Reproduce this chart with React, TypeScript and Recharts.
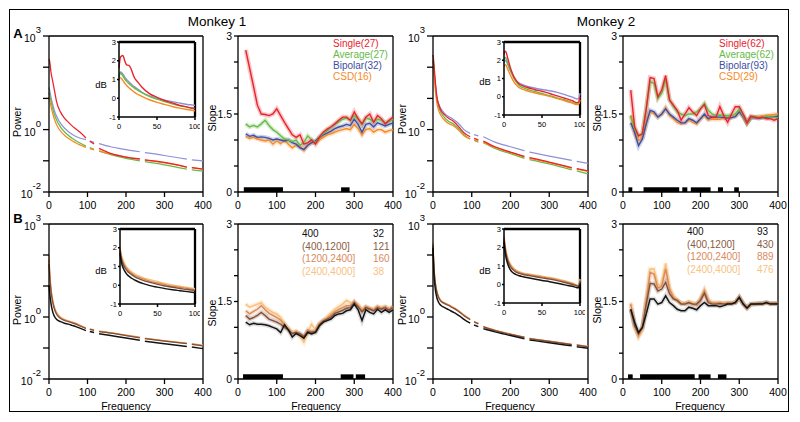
import React from 'react';
import { LineChart, Line, XAxis, YAxis, ReferenceLine, ReferenceArea } from 'recharts';

const FONT = 'Arial, "Liberation Sans", Helvetica, sans-serif';

// ---------- frequency grids ----------
const P_FREQ = [0, 2, 5, 10, 15, 20, 30, 40, 50, 60, 70, 80, 96, 101, 106, 117, 123, 130, 160, 200, 236, 242, 249, 300, 358, 364, 371, 400];
const I_FREQ = [0, 2, 5, 8, 10, 13, 16, 20, 25, 30, 40, 50, 60, 70, 80, 90, 96, 98, 100];
const S_FREQ = [20, 30, 40, 50, 60, 70, 80, 90, 100, 110, 120, 130, 140, 150, 160, 170, 180, 190, 200, 210, 220, 230, 240, 250, 260, 270, 280, 290, 300, 310, 320, 330, 340, 350, 360, 370, 380, 390, 400];

// ---------- tick values ----------
const X_TICKS = [0, 100, 200, 300, 400];
const POW_TICKS = [-2, -1, 0, 1, 2, 3];
const SLOPE_TICKS = [0, 0.5, 1, 1.5, 2, 2.5, 3];
const INSET_X_TICKS = [0, 50, 100];
const INSET_Y_TICKS = [-1, 0, 1, 2, 3];

// ---------- labels ----------
const LEGEND_M1 = ['Single(27)', 'Average(27)', 'Bipolar(32)', 'CSD(16)'];
const LEGEND_M2 = ['Single(62)', 'Average(62)', 'Bipolar(93)', 'CSD(29)'];
const DEPTH_BINS = ['400', '(400,1200]', '(1200,2400]', '(2400,4000]'];
const DEPTH_COUNTS_M1 = ['32', '121', '160', '38'];
const DEPTH_COUNTS_M2 = ['93', '430', '889', '476'];

// ---------- Row A, monkey 1: log10 power (null = notch gap) ----------
const A1_POW_SINGLE = [2.26, 2.17, 1.85, 1.53, 1.2, 0.88, 0.56, 0.37, 0.24, 0.12, 0.02, -0.08, -0.27, null, -0.37, -0.46, null, -0.6, -0.76, -0.88, -0.94, null, -0.97, -1.05, -1.2, null, -1.22, -1.27];
const A1_POW_AVERAGE = [1.18, 1.1, 0.92, 0.65, 0.45, 0.3, 0.08, -0.07, -0.18, -0.28, -0.36, -0.43, -0.53, null, -0.58, -0.63, null, -0.68, -0.8, -0.92, -1.0, null, -1.03, -1.13, -1.27, null, -1.29, -1.33];
const A1_POW_BIPOLAR = [1.35, 1.25, 1.05, 0.78, 0.57, 0.42, 0.2, 0.05, -0.06, -0.15, -0.22, -0.27, -0.32, null, -0.37, -0.41, null, -0.45, -0.55, -0.64, -0.71, null, -0.74, -0.83, -0.95, null, -0.97, -1.0];
const A1_POW_CSD = [1.05, 0.95, 0.75, 0.5, 0.3, 0.15, -0.05, -0.18, -0.28, -0.36, -0.43, -0.49, -0.57, null, -0.61, -0.65, null, -0.69, -0.78, -0.88, -0.95, null, -0.98, -1.07, -1.2, null, -1.22, -1.27];

// inset dB, monkey 1
const A1_DB_SINGLE = [1.6, 2.2, 2.28, 1.95, 1.78, 1.75, 1.55, 1.12, 0.85, 0.6, 0.25, 0.05, -0.12, -0.25, -0.38, -0.47, -0.52, -0.53, -0.55];
const A1_DB_AVERAGE = [1.1, 1.35, 1.2, 1.0, 0.9, 0.78, 0.68, 0.55, 0.42, 0.3, 0.1, -0.05, -0.18, -0.3, -0.4, -0.48, -0.53, -0.54, -0.55];
const A1_DB_BIPOLAR = [1.2, 1.4, 1.3, 1.1, 1.0, 0.88, 0.76, 0.62, 0.48, 0.32, 0.12, 0.0, -0.1, -0.18, -0.26, -0.33, -0.36, -0.37, -0.38];
const A1_DB_CSD = [0.95, 1.1, 0.95, 0.78, 0.68, 0.56, 0.46, 0.33, 0.2, 0.1, -0.08, -0.22, -0.33, -0.44, -0.53, -0.6, -0.64, -0.65, -0.67];

// slope, monkey 1
const A2_SLOPE_SINGLE = [2.73, 2.38, 2.03, 1.67, 1.5, 1.49, 1.47, 1.5, 1.6, 1.47, 1.34, 1.22, 1.1, 1.05, 1.1, 0.92, 0.95, 1.0, 0.92, 1.05, 1.15, 1.21, 1.25, 1.31, 1.38, 1.44, 1.44, 1.38, 1.54, 1.41, 1.31, 1.44, 1.5, 1.34, 1.47, 1.41, 1.31, 1.38, 1.44];
const A2_SLOPE_AVERAGE = [1.31, 1.25, 1.28, 1.25, 1.31, 1.38, 1.28, 1.2, 1.15, 1.08, 1.02, 1.0, 0.97, 1.0, 0.9, 0.95, 1.08, 1.0, 0.95, 1.05, 1.12, 1.18, 1.25, 1.3, 1.35, 1.4, 1.42, 1.38, 1.47, 1.4, 1.3, 1.42, 1.4, 1.35, 1.4, 1.38, 1.33, 1.36, 1.4];
const A2_SLOPE_BIPOLAR = [1.12, 1.07, 1.09, 1.05, 1.06, 1.05, 1.03, 1.0, 1.02, 1.0, 0.98, 1.0, 0.95, 0.92, 0.85, 0.82, 0.9, 0.95, 0.98, 1.05, 1.1, 1.13, 1.17, 1.22, 1.25, 1.27, 1.3, 1.28, 1.4, 1.3, 1.15, 1.3, 1.32, 1.25, 1.33, 1.3, 1.27, 1.3, 1.33];
const A2_SLOPE_CSD = [1.07, 1.03, 1.05, 1.02, 1.0, 0.98, 1.0, 0.92, 0.98, 0.93, 1.0, 0.92, 0.85, 0.9, 0.88, 0.8, 0.9, 0.95, 0.95, 1.0, 1.05, 1.1, 1.12, 1.15, 1.18, 1.2, 1.22, 1.2, 1.3, 1.22, 1.1, 1.2, 1.22, 1.15, 1.2, 1.2, 1.15, 1.18, 1.2];
const A2_SIG = [[15, 116], [266, 288]];

// ---------- Row A, monkey 2 ----------
const A3_POW_SINGLE = [2.39, 2.18, 1.69, 1.05, 0.79, 0.63, 0.47, 0.36, 0.29, 0.18, 0.04, -0.1, -0.23, null, -0.28, -0.33, null, -0.37, -0.55, -0.72, -0.86, null, -0.9, -1.04, -1.22, null, -1.25, -1.32];
const A3_POW_AVERAGE = [2.18, 2.0, 1.55, 0.98, 0.72, 0.56, 0.38, 0.27, 0.2, 0.1, -0.02, -0.16, -0.3, null, -0.35, -0.4, null, -0.42, -0.6, -0.77, -0.92, null, -0.96, -1.1, -1.29, null, -1.32, -1.42];
const A3_POW_BIPOLAR = [2.23, 2.05, 1.6, 1.05, 0.82, 0.68, 0.52, 0.42, 0.35, 0.26, 0.14, 0.0, -0.12, null, -0.16, -0.2, null, -0.23, -0.4, -0.55, -0.68, null, -0.72, -0.85, -0.99, null, -1.02, -1.08];
const A3_POW_CSD = [2.02, 1.85, 1.4, 0.85, 0.6, 0.46, 0.3, 0.2, 0.14, 0.05, -0.07, -0.2, -0.3, null, -0.33, -0.37, null, -0.4, -0.57, -0.74, -0.88, null, -0.92, -1.06, -1.24, null, -1.27, -1.34];

const A3_DB_SINGLE = [2.35, 2.5, 2.1, 1.65, 1.4, 1.1, 0.9, 0.7, 0.6, 0.52, 0.4, 0.3, 0.18, 0.05, -0.08, -0.22, -0.32, -0.3, 0.0];
const A3_DB_AVERAGE = [2.05, 2.15, 1.85, 1.5, 1.3, 1.02, 0.82, 0.62, 0.5, 0.42, 0.3, 0.18, 0.06, -0.06, -0.18, -0.32, -0.4, -0.38, -0.15];
const A3_DB_BIPOLAR = [1.85, 2.0, 1.75, 1.45, 1.3, 1.05, 0.88, 0.75, 0.65, 0.58, 0.48, 0.4, 0.33, 0.24, 0.12, -0.02, -0.12, -0.1, 0.2];
const A3_DB_CSD = [1.65, 1.75, 1.5, 1.22, 1.05, 0.82, 0.65, 0.5, 0.4, 0.33, 0.22, 0.12, 0.02, -0.1, -0.22, -0.35, -0.43, -0.42, -0.2];

const A4_SLOPE_SINGLE = [1.96, 1.25, 1.08, 1.12, 1.6, 2.2, 2.18, 1.83, 1.96, 2.24, 1.77, 1.67, 1.57, 1.38, 1.5, 1.62, 1.54, 1.47, 1.6, 1.68, 1.47, 1.44, 1.44, 1.64, 1.47, 1.34, 1.5, 1.64, 1.64, 1.5, 1.33, 1.46, 1.44, 1.42, 1.44, 1.41, 1.41, 1.38, 1.41];
const A4_SLOPE_AVERAGE = [1.47, 1.21, 1.08, 1.12, 1.6, 2.12, 2.09, 1.8, 1.9, 2.16, 1.77, 1.64, 1.54, 1.5, 1.47, 1.5, 1.5, 1.54, 1.6, 1.7, 1.57, 1.5, 1.47, 1.48, 1.47, 1.47, 1.47, 1.5, 1.6, 1.47, 1.33, 1.44, 1.44, 1.44, 1.44, 1.46, 1.44, 1.44, 1.42];
const A4_SLOPE_BIPOLAR = [1.33, 1.15, 0.89, 1.02, 1.31, 1.57, 1.54, 1.44, 1.5, 1.6, 1.5, 1.44, 1.38, 1.33, 1.33, 1.41, 1.38, 1.33, 1.41, 1.5, 1.41, 1.44, 1.44, 1.44, 1.43, 1.42, 1.43, 1.45, 1.54, 1.45, 1.33, 1.43, 1.43, 1.42, 1.43, 1.44, 1.44, 1.45, 1.46];
const A4_SLOPE_CSD = [1.47, 1.12, 0.99, 1.05, 1.34, 1.54, 1.51, 1.44, 1.5, 1.62, 1.47, 1.41, 1.34, 1.31, 1.33, 1.38, 1.34, 1.31, 1.41, 1.47, 1.39, 1.4, 1.4, 1.4, 1.42, 1.43, 1.44, 1.46, 1.54, 1.45, 1.33, 1.43, 1.44, 1.45, 1.46, 1.47, 1.48, 1.49, 1.5];
const A4_SIG = [[14, 24], [53, 145], [153, 166], [175, 226], [245, 258], [287, 299]];

// ---------- Row B, monkey 1 (depth bins) ----------
const B1_POW_D0 = [1.03, 0.75, 0.45, 0.15, 0.0, -0.08, -0.15, -0.2, -0.23, -0.27, -0.31, -0.36, -0.44, null, -0.47, -0.5, null, -0.54, -0.6, -0.68, -0.75, null, -0.78, -0.86, -0.95, null, -0.97, -1.02];
const B1_POW_D1 = [1.7, 1.3, 0.85, 0.45, 0.22, 0.08, -0.05, -0.11, -0.15, -0.19, -0.23, -0.29, -0.37, null, -0.4, -0.43, null, -0.47, -0.52, -0.6, -0.67, null, -0.7, -0.78, -0.86, null, -0.88, -0.93];
const B1_POW_D2 = [1.85, 1.4, 0.92, 0.5, 0.26, 0.12, -0.02, -0.09, -0.13, -0.17, -0.21, -0.27, -0.36, null, -0.39, -0.42, null, -0.46, -0.51, -0.59, -0.66, null, -0.69, -0.77, -0.85, null, -0.87, -0.92];
const B1_POW_D3 = [2.0, 1.5, 1.0, 0.55, 0.3, 0.15, 0.0, -0.07, -0.12, -0.16, -0.2, -0.26, -0.35, null, -0.38, -0.41, null, -0.45, -0.5, -0.58, -0.65, null, -0.68, -0.76, -0.84, null, -0.86, -0.91];

const B1_DB_D0 = [1.7, 1.2, 0.85, 0.65, 0.55, 0.45, 0.36, 0.27, 0.17, 0.1, -0.02, -0.1, -0.18, -0.24, -0.29, -0.34, -0.37, -0.38, -0.38];
const B1_DB_D1 = [1.85, 1.4, 1.05, 0.85, 0.75, 0.64, 0.55, 0.45, 0.35, 0.27, 0.15, 0.05, -0.04, -0.11, -0.17, -0.23, -0.26, -0.27, -0.28];
const B1_DB_D2 = [1.95, 1.5, 1.15, 0.94, 0.84, 0.72, 0.62, 0.52, 0.43, 0.35, 0.22, 0.12, 0.03, -0.05, -0.11, -0.17, -0.21, -0.22, -0.23];
const B1_DB_D3 = [2.05, 1.6, 1.25, 1.02, 0.92, 0.8, 0.7, 0.6, 0.5, 0.42, 0.3, 0.2, 0.1, 0.02, -0.05, -0.12, -0.16, -0.17, -0.18];

const B2_SLOPE_D0 = [1.1, 1.05, 1.08, 1.06, 1.06, 1.05, 1.03, 1.0, 0.97, 0.9, 1.05, 0.95, 0.81, 0.88, 0.84, 0.79, 0.9, 0.87, 0.9, 1.03, 1.1, 1.13, 1.16, 1.23, 1.26, 1.27, 1.32, 1.34, 1.45, 1.34, 1.13, 1.34, 1.29, 1.26, 1.35, 1.29, 1.34, 1.29, 1.34];
const B2_SLOPE_D1 = [1.23, 1.16, 1.19, 1.23, 1.29, 1.23, 1.16, 1.13, 1.1, 1.06, 1.0, 0.95, 0.88, 0.9, 0.88, 0.82, 0.92, 0.9, 0.92, 1.05, 1.12, 1.16, 1.2, 1.27, 1.3, 1.33, 1.37, 1.38, 1.48, 1.4, 1.3, 1.38, 1.35, 1.32, 1.38, 1.35, 1.38, 1.33, 1.39];
const B2_SLOPE_D2 = [1.32, 1.26, 1.31, 1.35, 1.42, 1.34, 1.27, 1.23, 1.19, 1.14, 1.05, 0.97, 0.88, 0.92, 0.86, 0.8, 0.95, 0.92, 0.93, 1.07, 1.13, 1.18, 1.24, 1.3, 1.35, 1.38, 1.42, 1.42, 1.5, 1.42, 1.33, 1.4, 1.37, 1.34, 1.4, 1.37, 1.4, 1.35, 1.4];
const B2_SLOPE_D3 = [1.45, 1.39, 1.42, 1.45, 1.48, 1.39, 1.34, 1.29, 1.26, 1.19, 1.08, 0.98, 0.9, 0.92, 0.82, 0.71, 0.9, 1.06, 0.94, 1.08, 1.13, 1.2, 1.28, 1.35, 1.4, 1.45, 1.52, 1.48, 1.45, 1.44, 1.35, 1.4, 1.37, 1.35, 1.4, 1.38, 1.4, 1.35, 1.39];
const B2_SIG = [[13, 116], [265, 298], [304, 328]];

// ---------- Row B, monkey 2 ----------
const B3_POW_D0 = [2.22, 1.5, 1.0, 0.62, 0.46, 0.38, 0.3, 0.24, 0.17, 0.1, 0.02, -0.08, -0.2, null, -0.26, -0.31, null, -0.38, -0.48, -0.6, -0.7, null, -0.74, -0.83, -0.93, null, -0.96, -1.01];
const B3_POW_D1 = [2.3, 1.68, 1.18, 0.8, 0.61, 0.51, 0.43, 0.37, 0.3, 0.23, 0.14, 0.04, -0.09, null, -0.16, -0.22, null, -0.32, -0.44, -0.56, -0.66, null, -0.7, -0.79, -0.89, null, -0.91, -0.96];
const B3_POW_D2 = [2.35, 1.72, 1.22, 0.83, 0.63, 0.53, 0.45, 0.39, 0.32, 0.25, 0.16, 0.06, -0.07, null, -0.15, -0.21, null, -0.31, -0.43, -0.55, -0.65, null, -0.69, -0.78, -0.88, null, -0.9, -0.95];
const B3_POW_D3 = [2.4, 1.75, 1.25, 0.85, 0.65, 0.55, 0.46, 0.4, 0.33, 0.26, 0.17, 0.07, -0.06, null, -0.14, -0.2, null, -0.3, -0.42, -0.55, -0.65, null, -0.69, -0.78, -0.88, null, -0.9, -0.95];

const B3_DB_D0 = [2.3, 1.6, 1.1, 0.82, 0.7, 0.6, 0.53, 0.47, 0.42, 0.38, 0.3, 0.22, 0.15, 0.07, -0.02, -0.1, -0.17, -0.18, 0.05];
const B3_DB_D1 = [2.45, 1.8, 1.28, 1.0, 0.88, 0.76, 0.67, 0.6, 0.54, 0.5, 0.43, 0.36, 0.29, 0.21, 0.11, 0.0, -0.08, -0.1, 0.2];
const B3_DB_D2 = [2.55, 1.9, 1.36, 1.08, 0.95, 0.82, 0.73, 0.65, 0.59, 0.54, 0.48, 0.41, 0.34, 0.26, 0.16, 0.04, -0.05, -0.07, 0.25];
const B3_DB_D3 = [2.65, 2.0, 1.45, 1.15, 1.02, 0.88, 0.78, 0.7, 0.63, 0.58, 0.52, 0.45, 0.38, 0.3, 0.2, 0.08, -0.03, -0.05, 0.3];

const B4_SLOPE_D0 = [1.35, 1.1, 0.9, 1.0, 1.26, 1.55, 1.55, 1.45, 1.48, 1.61, 1.48, 1.42, 1.35, 1.32, 1.32, 1.39, 1.37, 1.34, 1.42, 1.48, 1.42, 1.42, 1.42, 1.4, 1.42, 1.45, 1.45, 1.48, 1.58, 1.45, 1.37, 1.45, 1.45, 1.45, 1.45, 1.48, 1.45, 1.45, 1.45];
const B4_SLOPE_D1 = [1.35, 1.03, 0.87, 1.0, 1.45, 1.85, 1.84, 1.7, 1.74, 1.87, 1.65, 1.55, 1.52, 1.45, 1.45, 1.48, 1.45, 1.45, 1.52, 1.66, 1.48, 1.45, 1.45, 1.46, 1.45, 1.46, 1.46, 1.48, 1.58, 1.46, 1.38, 1.45, 1.45, 1.46, 1.46, 1.48, 1.46, 1.46, 1.46];
const B4_SLOPE_D2 = [1.45, 1.03, 0.84, 0.97, 1.52, 2.06, 2.03, 1.76, 1.8, 2.13, 1.74, 1.58, 1.52, 1.46, 1.46, 1.48, 1.45, 1.43, 1.55, 1.71, 1.52, 1.47, 1.47, 1.47, 1.46, 1.47, 1.47, 1.48, 1.58, 1.46, 1.38, 1.44, 1.45, 1.46, 1.46, 1.48, 1.46, 1.46, 1.46];
const B4_SLOPE_D3 = [1.48, 1.0, 0.81, 0.95, 1.55, 2.13, 2.13, 1.81, 1.84, 2.24, 1.77, 1.61, 1.53, 1.48, 1.46, 1.5, 1.48, 1.45, 1.55, 1.72, 1.53, 1.48, 1.48, 1.48, 1.47, 1.48, 1.48, 1.48, 1.58, 1.46, 1.37, 1.44, 1.45, 1.46, 1.46, 1.48, 1.46, 1.46, 1.45];
const B4_SIG = [[13, 25], [44, 185], [195, 226], [245, 267]];

// ---------- colours ----------
const COL = { single: '#E8232B', average: '#66BA47', bipolar: '#3D4FA3', bipolarPow: '#8D92D6', csd: '#F68A24' };
const DCOL = ['#141414', '#80503A', '#DB8957', '#F8BF74'];
const DTEXT = ['#111111', '#8A5B43', '#D98A5E', '#F7C37F'];

function rows(xs: number[], cols: Record<string, (number | null)[]>) {
  return xs.map((f, i) => {
    const r: any = { f };
    Object.keys(cols).forEach((k) => (r[k] = cols[k][i]));
    return r;
  });
}

const A1_POW = rows(P_FREQ, { s: A1_POW_SINGLE, a: A1_POW_AVERAGE, b: A1_POW_BIPOLAR, c: A1_POW_CSD });
const A1_DB = rows(I_FREQ, { s: A1_DB_SINGLE, a: A1_DB_AVERAGE, b: A1_DB_BIPOLAR, c: A1_DB_CSD });
const A2_SL = rows(S_FREQ, { s: A2_SLOPE_SINGLE, a: A2_SLOPE_AVERAGE, b: A2_SLOPE_BIPOLAR, c: A2_SLOPE_CSD });
const A3_POW = rows(P_FREQ, { s: A3_POW_SINGLE, a: A3_POW_AVERAGE, b: A3_POW_BIPOLAR, c: A3_POW_CSD });
const A3_DB = rows(I_FREQ, { s: A3_DB_SINGLE, a: A3_DB_AVERAGE, b: A3_DB_BIPOLAR, c: A3_DB_CSD });
const A4_SL = rows(S_FREQ, { s: A4_SLOPE_SINGLE, a: A4_SLOPE_AVERAGE, b: A4_SLOPE_BIPOLAR, c: A4_SLOPE_CSD });
const B1_POW = rows(P_FREQ, { d0: B1_POW_D0, d1: B1_POW_D1, d2: B1_POW_D2, d3: B1_POW_D3 });
const B1_DB = rows(I_FREQ, { d0: B1_DB_D0, d1: B1_DB_D1, d2: B1_DB_D2, d3: B1_DB_D3 });
const B2_SL = rows(S_FREQ, { d0: B2_SLOPE_D0, d1: B2_SLOPE_D1, d2: B2_SLOPE_D2, d3: B2_SLOPE_D3 });
const B3_POW = rows(P_FREQ, { d0: B3_POW_D0, d1: B3_POW_D1, d2: B3_POW_D2, d3: B3_POW_D3 });
const B3_DB = rows(I_FREQ, { d0: B3_DB_D0, d1: B3_DB_D1, d2: B3_DB_D2, d3: B3_DB_D3 });
const B4_SL = rows(S_FREQ, { d0: B4_SLOPE_D0, d1: B4_SLOPE_D1, d2: B4_SLOPE_D2, d3: B4_SLOPE_D3 });

type S = { key: string; color: string; sw?: number };
const POW_SERIES_A: S[] = [
  { key: 'b', color: COL.bipolarPow },
  { key: 'a', color: COL.average },
  { key: 'c', color: COL.csd },
  { key: 's', color: COL.single },
];
const SLOPE_SERIES_A: S[] = [
  { key: 'c', color: COL.csd },
  { key: 'b', color: COL.bipolar },
  { key: 'a', color: COL.average },
  { key: 's', color: COL.single },
];
const SERIES_B: S[] = [
  { key: 'd3', color: DCOL[3] },
  { key: 'd2', color: DCOL[2] },
  { key: 'd1', color: DCOL[1] },
  { key: 'd0', color: DCOL[0], sw: 1.5 },
];

// ---------- geometry ----------
type G = { left: number; top: number; w: number; h: number };
const COLS = [49, 238, 433, 623];
const COLW = [154, 155, 155, 155];
const ROWA = { top: 36, h: 156 };
const ROWB = { top: 224, h: 155 };
const g = (c: number, r: { top: number; h: number }): G => ({ left: COLS[c], top: r.top, w: COLW[c], h: r.h });

const AX = { stroke: '#000', strokeWidth: 1.3 };
const AXI = { stroke: '#000', strokeWidth: 1.5 };

const PowerTick = (p: any) => {
  const v = p.payload.value;
  if (v !== 3 && v !== 0 && v !== -2) return <g />;
  return (
    <text x={p.x} y={p.y} textAnchor="end" fontFamily={FONT} fill="#000">
      <tspan fontSize={10.5} dy={6}>10</tspan>
      <tspan fontSize={9.5} dy={-9}>{String(v)}</tspan>
    </text>
  );
};

const SlopeTick = (p: any) => {
  const v = p.payload.value;
  if (v !== 0 && v !== 1.5 && v !== 3) return <g />;
  return (
    <text x={p.x} y={p.y} dy={3.7} textAnchor="end" fontSize={10.5} fontFamily={FONT} fill="#000">
      {String(v)}
    </text>
  );
};

const ML = 10, YW = 40, MT = 20, MR = 10, MB = 5, XH = 25;

function PowerPanel({ geo, data, series }: { geo: G; data: any[]; series: S[] }) {
  return (
    <div style={{ position: 'absolute', left: geo.left - ML - YW, top: geo.top - MT }}>
      <LineChart width={geo.w + ML + YW + MR} height={geo.h + MT + MB + XH} data={data} margin={{ top: MT, right: MR, bottom: MB, left: ML }}>
        <XAxis dataKey="f" type="number" domain={[0, 400]} ticks={X_TICKS} interval={0} height={XH} tickSize={5} tickMargin={5} axisLine={AX} tickLine={AX} tick={{ fontSize: 10.5, fill: '#000', fontFamily: FONT }} />
        <YAxis type="number" domain={[-2, 3]} ticks={POW_TICKS} interval={0} width={YW} tickSize={6} tickMargin={2} axisLine={AX} tickLine={AX} tick={PowerTick} />
        <ReferenceLine y={3} stroke="#000" strokeWidth={1.3} />
        <ReferenceLine x={400} stroke="#000" strokeWidth={1.3} />
        {series.map((s) => (
          <Line key={s.key} type="monotone" dataKey={s.key} stroke={s.color} strokeWidth={s.sw ?? 1.25} dot={false} activeDot={false} isAnimationActive={false} connectNulls={false} />
        ))}
      </LineChart>
    </div>
  );
}

function SlopePanel({ geo, data, series, sig }: { geo: G; data: any[]; series: S[]; sig: number[][] }) {
  return (
    <div style={{ position: 'absolute', left: geo.left - ML - YW, top: geo.top - MT }}>
      <LineChart width={geo.w + ML + YW + MR} height={geo.h + MT + MB + XH} data={data} margin={{ top: MT, right: MR, bottom: MB, left: ML }}>
        <XAxis dataKey="f" type="number" domain={[0, 400]} ticks={X_TICKS} interval={0} height={XH} tickSize={5} tickMargin={5} axisLine={AX} tickLine={AX} tick={{ fontSize: 10.5, fill: '#000', fontFamily: FONT }} />
        <YAxis type="number" domain={[0, 3]} ticks={SLOPE_TICKS} interval={0} width={YW} tickSize={4} tickMargin={2} axisLine={AX} tickLine={AX} tick={SlopeTick} />
        <ReferenceLine y={3} stroke="#000" strokeWidth={1.3} />
        <ReferenceLine x={400} stroke="#000" strokeWidth={1.3} />
        {sig.map(([a, b]) => (
          <ReferenceArea key={'sig' + a} x1={a} x2={b} y1={0} y2={0.09} fill="#000" fillOpacity={1} stroke="none" ifOverflow="visible" />
        ))}
        {series.map((s) => (
          <Line key={'h' + s.key} type="linear" dataKey={s.key} stroke={s.key === 'd0' ? '#777' : s.color} strokeOpacity={0.25} strokeWidth={4.5} dot={false} activeDot={false} isAnimationActive={false} />
        ))}
        {series.map((s) => (
          <Line key={s.key} type="linear" dataKey={s.key} stroke={s.color} strokeWidth={s.sw ?? 1.4} dot={false} activeDot={false} isAnimationActive={false} />
        ))}
      </LineChart>
    </div>
  );
}

const IML = 5, IYW = 20, IMT = 8, IMR = 5, IMB = 3, IXH = 15;

function InsetPanel({ geo, data, series }: { geo: G; data: any[]; series: S[] }) {
  return (
    <div style={{ position: 'absolute', left: geo.left - IML - IYW, top: geo.top - IMT }}>
      <LineChart width={geo.w + IML + IYW + IMR} height={geo.h + IMT + IMB + IXH} data={data} margin={{ top: IMT, right: IMR, bottom: IMB, left: IML }}>
        <XAxis dataKey="f" type="number" domain={[0, 100]} ticks={INSET_X_TICKS} interval={0} height={IXH} tickSize={3} tickMargin={4} axisLine={AXI} tickLine={AXI} tick={{ fontSize: 7.5, fill: '#000', fontFamily: FONT }} />
        <YAxis type="number" domain={[-1, 3]} ticks={INSET_Y_TICKS} interval={0} width={IYW} tickSize={2} tickMargin={1} axisLine={AXI} tickLine={AXI} tick={{ fontSize: 7.5, fill: '#000', fontFamily: FONT }} />
        <ReferenceLine y={3} stroke="#000" strokeWidth={2.3} />
        <ReferenceLine x={100} stroke="#000" strokeWidth={2.3} />
        {series.map((s) => (
          <Line key={s.key} type="monotone" dataKey={s.key} stroke={s.color} strokeWidth={s.sw ?? 1.4} dot={false} activeDot={false} isAnimationActive={false} />
        ))}
      </LineChart>
    </div>
  );
}

function Txt({ x, y, children, size = 10.5, color = '#000', bold = false, anchor = 'center' }: any) {
  const tx = anchor === 'center' ? '-50%' : '0';
  return (
    <div
      style={{
        position: 'absolute',
        left: x,
        top: y,
        transform: `translate(${tx}, -50%)`,
        fontSize: size,
        color,
        fontWeight: bold ? 700 : 400,
        lineHeight: 1,
        whiteSpace: 'nowrap',
        fontFamily: FONT,
      }}
    >
      {children}
    </div>
  );
}

function RotTxt({ x, y, children, size = 10.5 }: any) {
  return (
    <div
      style={{
        position: 'absolute',
        left: x,
        top: y,
        transform: 'translate(-50%, -50%) rotate(-90deg)',
        fontSize: size,
        lineHeight: 1,
        whiteSpace: 'nowrap',
        fontFamily: FONT,
        color: '#000',
      }}
    >
      {children}
    </div>
  );
}

export default function App() {
  const legColA = [COL.single, COL.average, COL.bipolar, COL.csd];
  return (
    <div style={{ position: 'absolute', left: 0, top: 0, width: 800, height: 422, background: '#fff', fontFamily: FONT, overflow: 'hidden' }}>
      <div style={{ position: 'absolute', left: 9, top: 9, width: 780, height: 403, border: '1.5px solid #000', boxSizing: 'border-box' }} />

      <PowerPanel geo={g(0, ROWA)} data={A1_POW} series={POW_SERIES_A} />
      <InsetPanel geo={{ left: 119, top: 42, w: 76, h: 75 }} data={A1_DB} series={POW_SERIES_A} />
      <SlopePanel geo={g(1, ROWA)} data={A2_SL} series={SLOPE_SERIES_A} sig={A2_SIG} />
      <PowerPanel geo={g(2, ROWA)} data={A3_POW} series={POW_SERIES_A} />
      <InsetPanel geo={{ left: 504, top: 42, w: 76, h: 73 }} data={A3_DB} series={POW_SERIES_A} />
      <SlopePanel geo={g(3, ROWA)} data={A4_SL} series={SLOPE_SERIES_A} sig={A4_SIG} />

      <PowerPanel geo={g(0, ROWB)} data={B1_POW} series={SERIES_B} />
      <InsetPanel geo={{ left: 120, top: 229, w: 75, h: 75 }} data={B1_DB} series={SERIES_B} />
      <SlopePanel geo={g(1, ROWB)} data={B2_SL} series={SERIES_B} sig={B2_SIG} />
      <PowerPanel geo={g(2, ROWB)} data={B3_POW} series={SERIES_B} />
      <InsetPanel geo={{ left: 504, top: 229, w: 76, h: 74 }} data={B3_DB} series={SERIES_B} />
      <SlopePanel geo={g(3, ROWB)} data={B4_SL} series={SERIES_B} sig={B4_SIG} />

      <Txt x={217} y={22} size={13.5}>Monkey 1</Txt>
      <Txt x={606} y={22} size={13.5}>Monkey 2</Txt>
      <Txt x={18} y={33} size={13} bold>A</Txt>
      <Txt x={18} y={218} size={13} bold>B</Txt>

      <RotTxt x={17} y={122}>Power</RotTxt>
      <RotTxt x={402} y={119}>Power</RotTxt>
      <RotTxt x={17} y={310}>Power</RotTxt>
      <RotTxt x={402} y={310}>Power</RotTxt>
      <RotTxt x={212} y={118}>Slope</RotTxt>
      <RotTxt x={597} y={118}>Slope</RotTxt>
      <RotTxt x={212} y={313}>Slope</RotTxt>
      <RotTxt x={597} y={310}>Slope</RotTxt>

      <Txt x={101} y={85} size={9.5}>dB</Txt>
      <Txt x={485} y={82} size={9.5}>dB</Txt>
      <Txt x={101} y={271} size={9.5}>dB</Txt>
      <Txt x={485} y={271} size={9.5}>dB</Txt>

      <Txt x={126} y={406}>Frequency</Txt>
      <Txt x={316} y={406}>Frequency</Txt>
      <Txt x={510} y={406}>Frequency</Txt>
      <Txt x={700} y={406}>Frequency</Txt>

      {LEGEND_M1.map((t, i) => (
        <Txt key={'l1' + i} x={333} y={44 + i * 11} size={10} color={legColA[i]} anchor="left">{t}</Txt>
      ))}
      {LEGEND_M2.map((t, i) => (
        <Txt key={'l2' + i} x={719} y={44 + i * 11} size={10} color={legColA[i]} anchor="left">{t}</Txt>
      ))}
      {DEPTH_BINS.map((t, i) => (
        <Txt key={'d1' + i} x={302} y={234 + i * 12.5} size={10} color={DTEXT[i]} anchor="left">{t}</Txt>
      ))}
      {DEPTH_COUNTS_M1.map((t, i) => (
        <Txt key={'c1' + i} x={373} y={234 + i * 12.5} size={10} color={DTEXT[i]} anchor="left">{t}</Txt>
      ))}
      {DEPTH_BINS.map((t, i) => (
        <Txt key={'d2' + i} x={687} y={232 + i * 12.7} size={10} color={DTEXT[i]} anchor="left">{t}</Txt>
      ))}
      {DEPTH_COUNTS_M2.map((t, i) => (
        <Txt key={'c2' + i} x={757} y={232 + i * 12.7} size={10} color={DTEXT[i]} anchor="left">{t}</Txt>
      ))}
    </div>
  );
}
